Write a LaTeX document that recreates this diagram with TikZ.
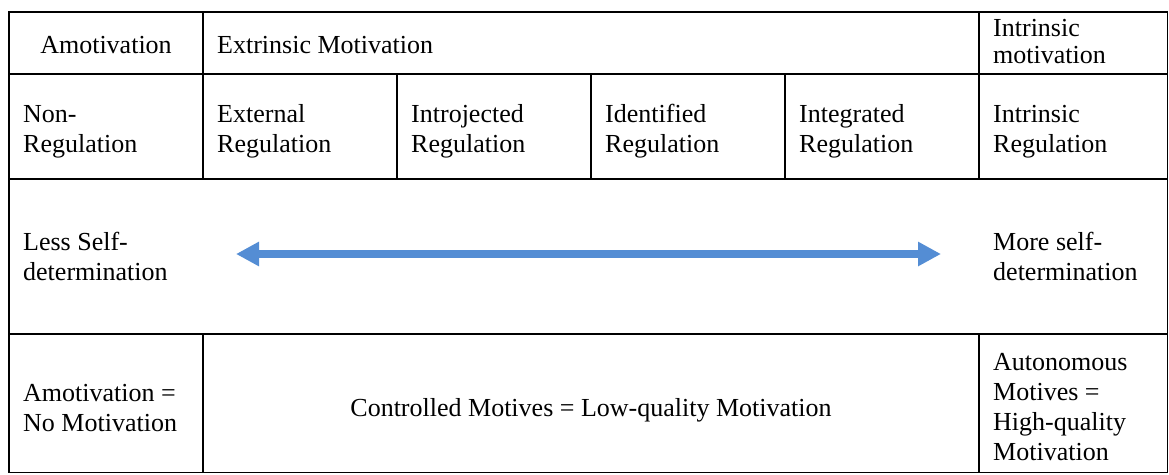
\documentclass[tikz,border=0pt]{standalone}
\usepackage{fontspec}
\setmainfont{Liberation Serif}
\usetikzlibrary{arrows.meta}
\definecolor{arrowblue}{RGB}{84,141,212}

\begin{document}
\begin{tikzpicture}[x=1pt,y=-1pt,
  rule/.style={line width=1.8pt, draw=black},
  % multi-line cells are anchored at the baseline of their last line
  cell/.style={inner sep=0pt, anchor=base west, align=left,
    font=\fontsize{26}{30}\selectfont},
  mid/.style={cell, anchor=base},
  scale arrow/.style={line width=8pt, draw=arrowblue,
    {Triangle[length=23pt,width=23pt]}-{Triangle[length=23pt,width=23pt]}}
]
\useasboundingbox (0,0) rectangle (1169,474);

% table frame and rules
\draw[rule] (9,12) rectangle (1167.5,472.5);
\draw[rule] (9,74) -- (1167.5,74);
\draw[rule] (9,179) -- (1167.5,179);
\draw[rule] (9,334) -- (1167.5,334);
\draw[rule] (203,12) -- (203,179);
\draw[rule] (203,334) -- (203,472.5);
\draw[rule] (979,12) -- (979,179);
\draw[rule] (979,334) -- (979,472.5);
\foreach \x in {397,591,785}
  \draw[rule] (\x,74) -- (\x,179);

% header row
\node[mid] (amot) at (106,53) {Amotivation};
\node[cell] (extr) at (217,53) {Extrinsic Motivation};
\node[cell, font=\fontsize{26}{27}\selectfont] (intr) at (993,63.3) {Intrinsic\\motivation};

% regulation types
\node[cell] (nonreg) at (23,152.5) {Non-\\Regulation};
\node[cell] (extreg) at (217,152.5) {External\\Regulation};
\node[cell] (introreg) at (411,152.5) {Introjected\\Regulation};
\node[cell] (identreg) at (605,152.5) {Identified\\Regulation};
\node[cell] (integreg) at (799,152.5) {Integrated\\Regulation};
\node[cell] (intrreg) at (993,152.5) {Intrinsic\\Regulation};

% self-determination continuum
\node[cell] (less) at (23,280.7) {Less Self-\\determination};
\node[cell] (more) at (993,280.7) {More self-\\determination};
\coordinate (lefttip) at (236,254);
\coordinate (righttip) at (941,254);
\draw[scale arrow] (lefttip) -- (righttip);

% quality of motivation
\node[cell] (nomot) at (23,431.7) {Amotivation =\\No Motivation};
\node[mid] (ctrl) at (591,416.7) {Controlled Motives = Low-quality Motivation};
\node[cell] (auto) at (993,460.5) {Autonomous\\Motives =\\High-quality\\Motivation};
\end{tikzpicture}
\end{document}
